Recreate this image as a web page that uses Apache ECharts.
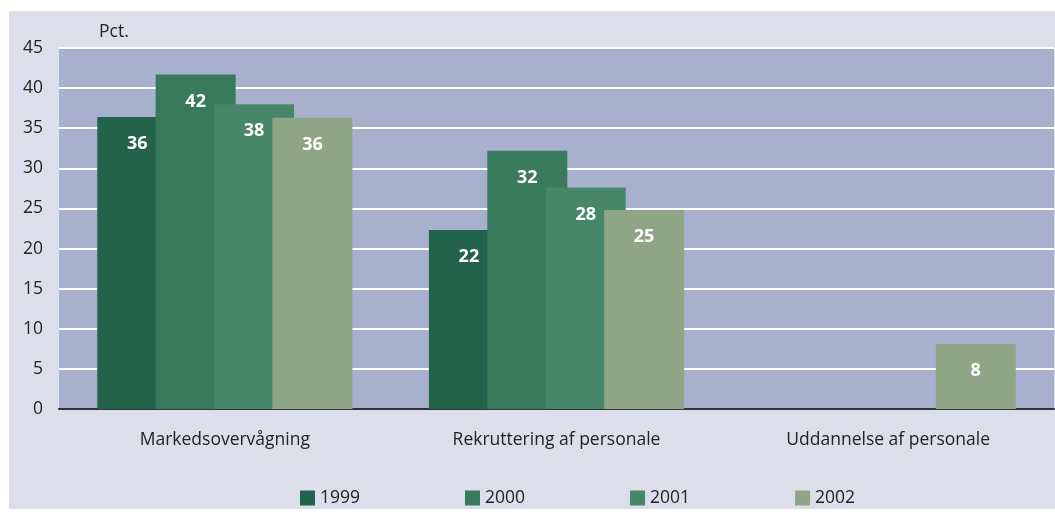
<!DOCTYPE html>
<html lang="da">
<head>
	<meta charset="UTF-8">
	<script src="https://cdn.jsdelivr.net/npm/echarts@6/dist/echarts.min.js"></script>
	<title>Pct.</title>
	<style>
		html, body { margin: 0; padding: 0; background: #ffffff; }
	</style>
</head>
<body>
<div id="chart" style="width: 1055px;height:512px;"></div>
<script type="text/javascript">
	var categories = ['Markedsovervågning', 'Rekruttering af personale', 'Uddannelse af personale'];
	var years = ['1999', '2000', '2001', '2002'];
	var v1999 = [36.4, 22.3, null];
	var v2000 = [41.7, 32.2, null];
	var v2001 = [38.0, 27.6, null];
	var v2002 = [36.3, 24.8, 8.1];
	var yTicks = [0, 5, 10, 15, 20, 25, 30, 35, 40, 45];

	var colors = ['#24634b', '#3a7a5c', '#48866a', '#8ea685'];
	var font = 'Open Sans';

	function bar(name, data, color) {
		return {
			name: name,
			type: 'bar',
			data: data,
			barWidth: 80,
			barGap: '-27%',
			itemStyle: { color: color },
			label: {
				show: true,
				position: 'insideTop',
				distance: 18,
				color: '#ffffff',
				fontFamily: font,
				fontWeight: 'bold',
				fontSize: 18,
				formatter: function (p) { return Math.round(p.value); }
			}
		};
	}

	var chart = echarts.init(document.getElementById('chart'));
	chart.setOption({
		animation: false,
		color: colors,
		graphic: [{
			type: 'rect',
			z: -10,
			shape: { x: 9, y: 11, width: 1046, height: 498 },
			style: { fill: '#dcdfeb' }
		}],
		title: {
			text: 'Pct.',
			left: 94,
			top: 18,
			textStyle: { fontFamily: font, fontSize: 17.5, fontWeight: 'normal', color: '#222222' }
		},
		legend: {
			data: years,
			left: 295,
			top: 484,
			icon: 'rect',
			itemWidth: 15,
			itemHeight: 15,
			itemGap: 105,
			textStyle: { fontFamily: font, fontSize: 17.5, color: '#222222' }
		},
		grid: {
			left: 59,
			right: 1,
			top: 48,
			bottom: 103,
			show: true,
			backgroundColor: '#a7b1cd',
			borderWidth: 0
		},
		xAxis: {
			type: 'category',
			data: categories,
			axisLine: { lineStyle: { color: '#333333', width: 2 } },
			axisTick: { show: false },
			axisLabel: { margin: 22, fontFamily: font, fontSize: 17.5, color: '#222222' }
		},
		yAxis: {
			type: 'value',
			min: yTicks[0],
			max: yTicks[yTicks.length - 1],
			interval: 5,
			axisLine: { show: false },
			axisTick: { show: false },
			axisLabel: { margin: 16, fontFamily: font, fontSize: 17.5, color: '#222222' },
			splitLine: { lineStyle: { color: '#ffffff', width: 2 } }
		},
		series: [
			bar(years[0], v1999, colors[0]),
			bar(years[1], v2000, colors[1]),
			bar(years[2], v2001, colors[2]),
			bar(years[3], v2002, colors[3])
		]
	});
</script>
</body>
</html>
